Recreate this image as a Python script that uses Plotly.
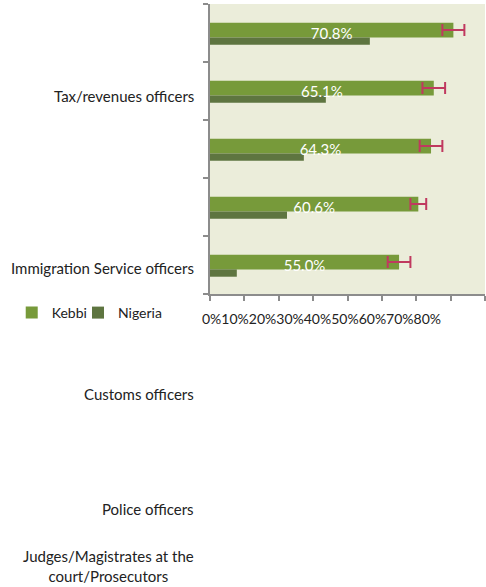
import plotly.graph_objects as go

# Data (top-to-bottom order as drawn)
kebbi = [70.8, 65.1, 64.3, 60.6, 55.0]
nigeria = [46.5, 33.7, 27.3, 22.4, 7.8]
kebbi_err = [3.2, 3.3, 3.3, 2.3, 3.3]
category_labels = ["Tax/revenues officers", "Immigration Service officers", "Customs officers",
                   "Police officers", "Judges/Magistrates at the<br>court/Prosecutors"]
tick_labels = ["0%", "10%", "20%", "30%", "40%", "50%", "60%", "70%", "80%"]

n = len(kebbi)
ypos = [n - 1 - i for i in range(n)]

KEBBI_C = "#779a3a"
NIG_C = "#5e7540"
ERR_C = "#c0395f"
BG = "#ebedda"
AX = "#8c8c8c"
FONT = "Lato, Open Sans, sans-serif"

k_off, k_w = -0.076, 0.254
n_off, n_w = -0.202, 0.126
label_shift = -0.04

fig = go.Figure()
fig.add_trace(go.Bar(y=ypos, x=kebbi, orientation="h", name="Kebbi",
                     marker=dict(color=KEBBI_C, line=dict(width=0)),
                     offset=k_off, width=k_w, hoverinfo="x", legend="legend"))
fig.add_trace(go.Bar(y=ypos, x=nigeria, orientation="h", name="Nigeria",
                     marker=dict(color=NIG_C, line=dict(width=0)),
                     offset=n_off, width=n_w, hoverinfo="x", legend="legend2"))
fig.add_trace(go.Scatter(y=[y + k_off + k_w / 2 for y in ypos], x=kebbi, mode="markers",
                         marker=dict(size=1, opacity=0), showlegend=False,
                         error_x=dict(type="data", array=kebbi_err, color=ERR_C,
                                      thickness=2, width=6)))
fig.add_trace(go.Scatter(y=[y + label_shift for y in ypos], x=[v / 2 for v in kebbi],
                         mode="text",
                         text=[f"{v:.1f}%" for v in kebbi], textposition="middle center",
                         textfont=dict(color="white", size=15, family=FONT),
                         showlegend=False, hoverinfo="skip"))

# Category labels (placed as in reference)
label_px = [96, 268, 394, 509, 566]
for lab, py in zip(category_labels, label_px):
    fig.add_annotation(text=lab, xref="paper", yref="paper", x=-14 / 275,
                       y=(294 - py) / 290, xanchor="right", yanchor="middle",
                       showarrow=False, align="center",
                       font=dict(size=15, color="#222", family=FONT))

fig.add_annotation(text="".join(tick_labels), xref="paper", yref="paper",
                   x=-10 / 275, y=(294 - 318) / 290, xanchor="left", yanchor="middle",
                   showarrow=False, font=dict(size=14, color="#222", family=FONT))

leg_common = dict(orientation="h", xanchor="left", yanchor="middle",
                  y=(294 - 313) / 290, bgcolor="rgba(0,0,0,0)",
                  font=dict(size=14, color="#222", family=FONT))

fig.update_layout(
    width=486, height=587,
    margin=dict(l=210, r=1, t=4, b=293, autoexpand=False),
    paper_bgcolor="white", plot_bgcolor=BG,
    barmode="overlay",
    showlegend=True,
    legend=dict(x=-0.721, **leg_common),
    legend2=dict(x=-0.480, **leg_common),
    xaxis=dict(range=[0, 80], tickvals=[0, 10, 20, 30, 40, 50, 60, 70, 80],
               showticklabels=False, ticks="outside", ticklen=5, tickwidth=2,
               tickcolor=AX, showline=True, linecolor=AX, linewidth=2,
               showgrid=False, zeroline=False),
    yaxis=dict(range=[-0.5, n - 0.5], tickvals=[i - 0.5 for i in range(n + 1)],
               showticklabels=False, ticks="outside", ticklen=5, tickwidth=2,
               tickcolor=AX, showline=True, linecolor=AX, linewidth=2,
               showgrid=False, zeroline=False),
)
fig.write_html("out.html", config={"displayModeBar": False},
               post_script="document.body.style.margin='0px';")
